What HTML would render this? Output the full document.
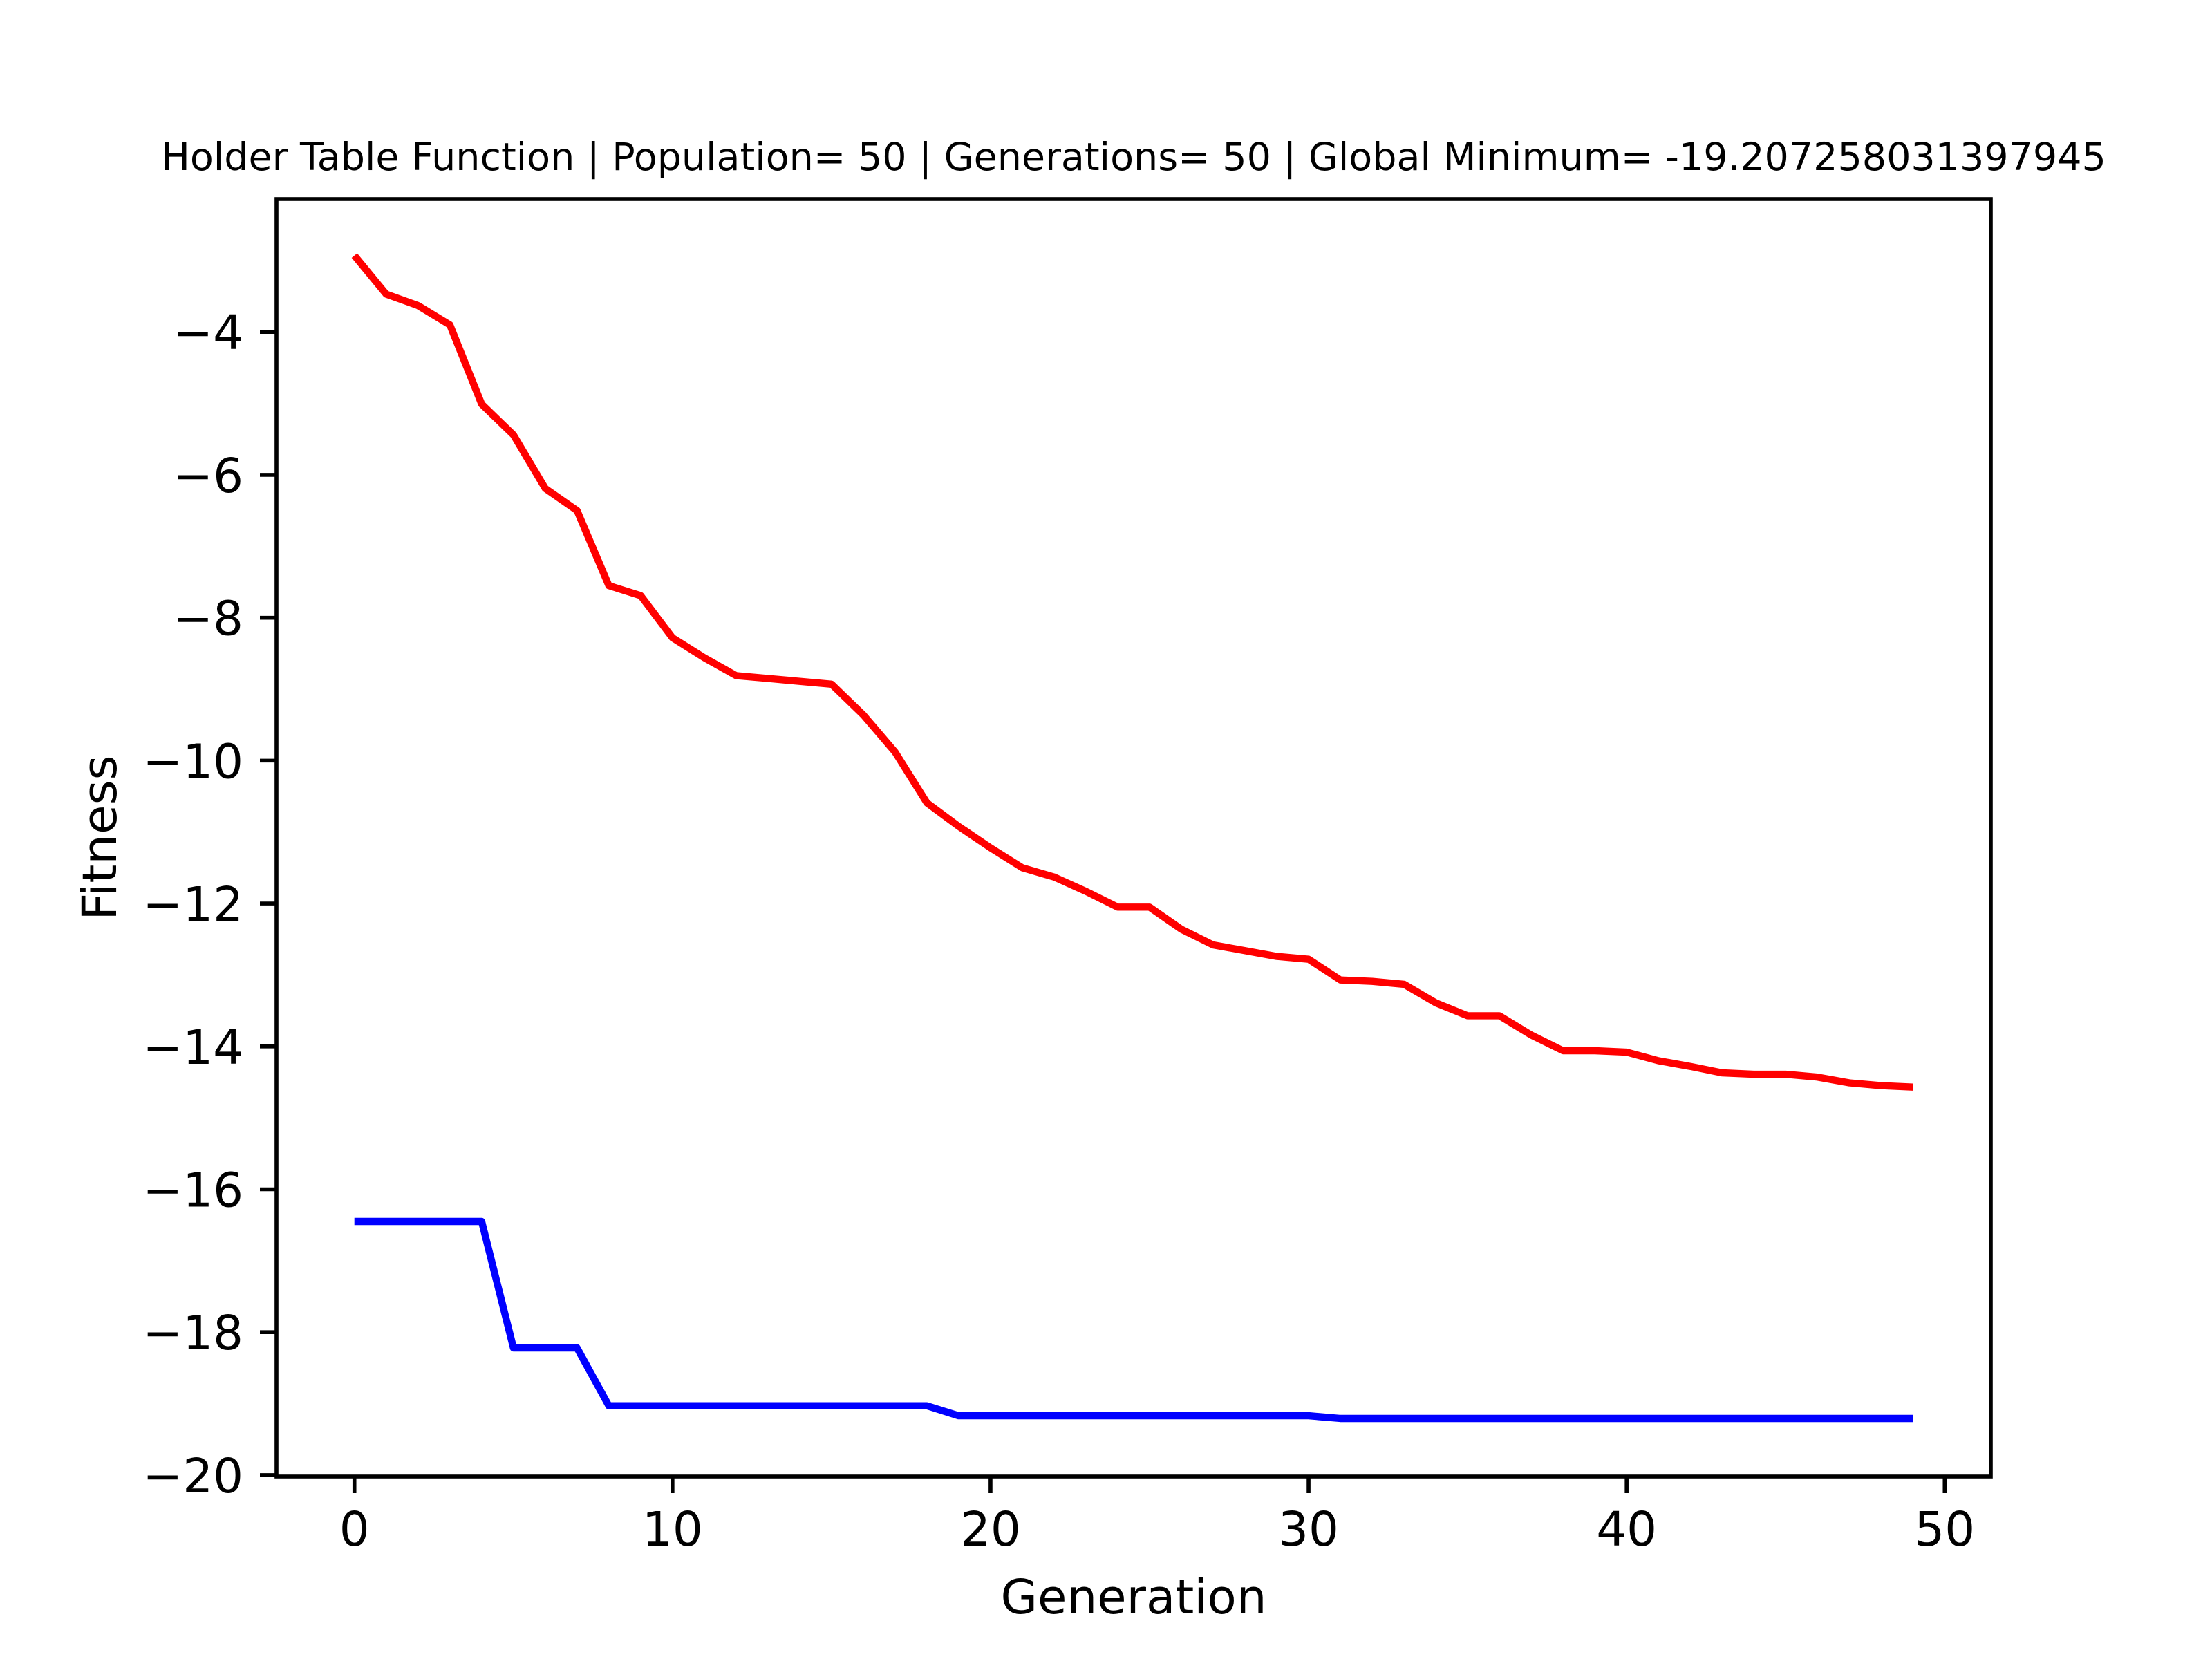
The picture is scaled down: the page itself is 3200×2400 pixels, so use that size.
<!DOCTYPE html>
<html><head><meta charset="utf-8"><style>
html,body{margin:0;padding:0;background:#fff;}
svg{display:block;font-family:"DejaVu Sans","Liberation Sans",sans-serif;}
</style></head><body>
<svg id="chart" width="3200" height="2400" viewBox="0 0 3200 2400" xmlns="http://www.w3.org/2000/svg">
<rect width="3200" height="2400" fill="#fff"/>
<text x="1640" y="246" font-size="55.5" text-anchor="middle">Holder Table Function | Population= 50 | Generations= 50 | Global Minimum= -19.207258031397945</text>
<g id="plot"></g>
<text x="1640" y="2334" font-size="69" text-anchor="middle">Generation</text>
<text x="0" y="0" font-size="69" text-anchor="middle" transform="translate(168,1212) rotate(-90)">Fitness</text>
</svg>
<script>
const generations = Array.from({length:50},(_,i)=>i);
const avgFitness = [-2.93,-3.47,-3.63,-3.90,-5.01,-5.44,-6.19,-6.50,-7.55,-7.69,-8.28,-8.56,-8.81,-8.85,-8.89,-8.93,-9.36,-9.88,-10.59,-10.92,-11.22,-11.50,-11.63,-11.83,-12.05,-12.05,-12.36,-12.58,-12.66,-12.74,-12.78,-13.07,-13.09,-13.13,-13.39,-13.57,-13.57,-13.84,-14.06,-14.06,-14.08,-14.20,-14.28,-14.37,-14.39,-14.39,-14.43,-14.51,-14.55,-14.57];
const bestFitness = [-16.45,-16.45,-16.45,-16.45,-16.45,-18.22,-18.22,-18.22,-19.03,-19.03,-19.03,-19.03,-19.03,-19.03,-19.03,-19.03,-19.03,-19.03,-19.03,-19.17,-19.17,-19.17,-19.17,-19.17,-19.17,-19.17,-19.17,-19.17,-19.17,-19.17,-19.17,-19.207,-19.207,-19.207,-19.207,-19.207,-19.207,-19.207,-19.207,-19.207,-19.207,-19.207,-19.207,-19.207,-19.207,-19.207,-19.207,-19.207,-19.207,-19.207];
const xTicks = [0,10,20,30,40,50];
const yTicks = [-4,-6,-8,-10,-12,-14,-16,-18,-20];

const L=400,R=2880,T=288,B=2136;
const xMin=-2.45,xMax=51.45,yMin=-20.02,yMax=-2.14;
const sx=v=>L+(v-xMin)/(xMax-xMin)*(R-L);
const sy=v=>B-(v-yMin)/(yMax-yMin)*(B-T);
const NS="http://www.w3.org/2000/svg";
const g=document.getElementById('plot');
function mk(tag,attrs){const e=document.createElementNS(NS,tag);for(const k in attrs)e.setAttribute(k,attrs[k]);g.appendChild(e);return e;}

function series(vals,color,name){
  const d=vals.map((v,i)=>(i?'L':'M')+sx(generations[i]).toFixed(1)+','+sy(v).toFixed(1)).join(' ');
  const p=mk('path',{d:d,fill:'none',stroke:color,'stroke-width':10.4,'stroke-linejoin':'round','stroke-linecap':'butt'});
  
  
}
series(avgFitness,'#ff0000','average-fitness-line');
series(bestFitness,'#0000ff','best-fitness-line');

const frame=mk('rect',{x:L,y:T,width:R-L,height:B-T,fill:'none',stroke:'#000','stroke-width':5.6});



xTicks.forEach(t=>{
  const x=sx(t);
  const tk=mk('line',{x1:x,x2:x,y1:B,y2:B+24,stroke:'#000','stroke-width':5.6});
  
  
  const lb=mk('text',{x:x,y:B+100,'font-size':69,'text-anchor':'middle'});
  lb.textContent=String(t);
  
  
});
yTicks.forEach(t=>{
  const y=sy(t);
  const tk=mk('line',{x1:L-24,x2:L,y1:y,y2:y,stroke:'#000','stroke-width':5.6});
  
  
  const lb=mk('text',{x:L-48,y:y+25,'font-size':69,'text-anchor':'end'});
  lb.textContent='\u2212'+Math.abs(t);
  
  
});
</script>
</body></html>
